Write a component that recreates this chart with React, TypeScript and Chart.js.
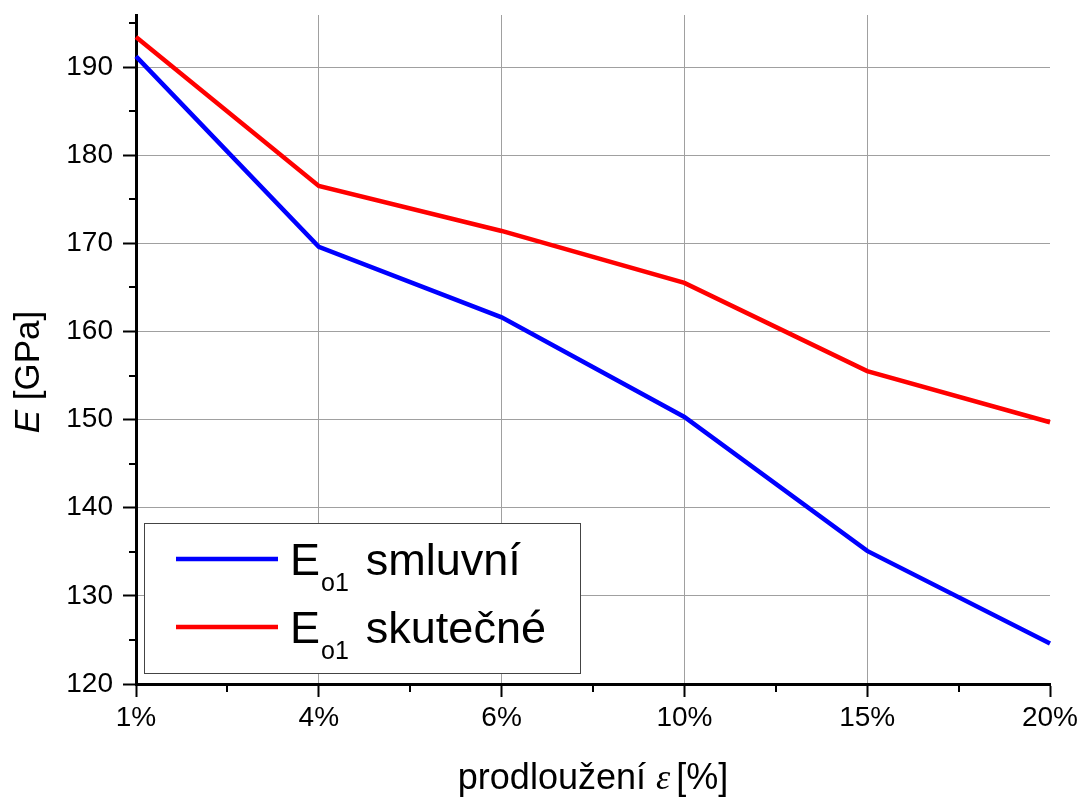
import React, { useEffect, useRef } from 'react';
import { Chart, registerables } from 'chart.js';

Chart.register(...registerables);

const categories = ['1%', '4%', '6%', '10%', '15%', '20%'];
const smluvniValues = [191.2, 169.6, 161.6, 150.3, 135.1, 124.6];
const skutecneValues = [193.4, 176.5, 171.4, 165.5, 155.5, 149.7];
const yMinorTicks = [125, 135, 145, 155, 165, 175, 185, 195];
const xMinorTicks = [0.5, 1.5, 2.5, 3.5, 4.5];
const legendMain = ['E', 'E'];
const legendSub = ['o1', 'o1'];
const legendRest = ['smluvní', 'skutečné'];
const seriesColors = ['#0000ff', '#ff0000'];
const yTitleItalic = 'E';
const yTitleRest = ' [GPa]';
const xTitleStart = 'prodloužení ';
const xTitleSymbol = 'ε';
const xTitleEnd = '[%]';

const SANS = "'Liberation Sans', Arial, sans-serif";
const SERIF = "'Liberation Serif', 'Times New Roman', serif";

const decorPlugin = {
  id: 'decor',
  afterDraw(chart: any) {
    const ctx: CanvasRenderingContext2D = chart.ctx;
    const xs = chart.scales.x;
    const ys = chart.scales.y;
    const area = chart.chartArea;
    ctx.save();

    // minor ticks
    ctx.strokeStyle = '#000';
    ctx.lineWidth = 2;
    yMinorTicks.forEach((v) => {
      const py = Math.round(ys.getPixelForValue(v));
      ctx.beginPath();
      ctx.moveTo(area.left - 7, py);
      ctx.lineTo(area.left, py);
      ctx.stroke();
    });
    xMinorTicks.forEach((v) => {
      const px = Math.round(xs.getPixelForValue(v));
      ctx.beginPath();
      ctx.moveTo(px, area.bottom);
      ctx.lineTo(px, area.bottom + 8);
      ctx.stroke();
    });

    ctx.fillStyle = '#000';
    ctx.textBaseline = 'alphabetic';
    ctx.textAlign = 'left';

    // y title
    ctx.save();
    ctx.translate(39, 372);
    ctx.rotate(-Math.PI / 2);
    ctx.font = `italic 35px ${SANS}`;
    const wE = ctx.measureText(yTitleItalic).width;
    ctx.font = `35px ${SANS}`;
    const wR = ctx.measureText(yTitleRest).width;
    const sx = -(wE + wR) / 2;
    ctx.font = `italic 35px ${SANS}`;
    ctx.fillText(yTitleItalic, sx, 0);
    ctx.font = `35px ${SANS}`;
    ctx.fillText(yTitleRest, sx + wE, 0);
    ctx.restore();

    // x title
    ctx.font = `36px ${SANS}`;
    const w1 = ctx.measureText(xTitleStart).width;
    const w3 = ctx.measureText(xTitleEnd).width;
    ctx.font = `italic 36px ${SERIF}`;
    const w2 = ctx.measureText(xTitleSymbol).width;
    const gap = 6;
    const total = w1 + w2 + gap + w3;
    let tx = (area.left + area.right) / 2 - total / 2;
    const by = 789;
    ctx.font = `36px ${SANS}`;
    ctx.fillText(xTitleStart, tx, by);
    tx += w1;
    ctx.font = `italic 36px ${SERIF}`;
    ctx.fillText(xTitleSymbol, tx, by);
    tx += w2 + gap;
    ctx.font = `36px ${SANS}`;
    ctx.fillText(xTitleEnd, tx, by);

    // legend
    const bx = area.left + 8;
    const bTop = 523;
    const bw = 436;
    const bh = 150;
    ctx.fillStyle = '#ffffff';
    ctx.fillRect(bx, bTop, bw, bh);
    ctx.strokeStyle = '#444';
    ctx.lineWidth = 1;
    ctx.strokeRect(bx + 0.5, bTop + 0.5, bw, bh);
    const rowY = [559, 627];
    for (let i = 0; i < 2; i++) {
      const ly = rowY[i];
      ctx.strokeStyle = seriesColors[i];
      ctx.lineWidth = 4.5;
      ctx.beginPath();
      ctx.moveTo(bx + 32, ly);
      ctx.lineTo(bx + 134, ly);
      ctx.stroke();
      ctx.fillStyle = '#000';
      const base = ly + 16;
      let lx = bx + 146;
      ctx.font = `45px ${SANS}`;
      ctx.fillText(legendMain[i], lx, base);
      lx += ctx.measureText(legendMain[i]).width;
      ctx.font = `25px ${SANS}`;
      ctx.fillText(legendSub[i], lx + 1, base + 16);
      lx += ctx.measureText(legendSub[i]).width + 1;
      ctx.font = `45px ${SANS}`;
      ctx.fillText(legendRest[i], lx + 17, base);
    }
    ctx.restore();
  },
};

export default function App() {
  const canvasRef = useRef<HTMLCanvasElement | null>(null);

  useEffect(() => {
    if (!canvasRef.current) return;
    const chart = new Chart(canvasRef.current, {
      type: 'line',
      data: {
        labels: categories,
        datasets: [
          {
            label: 'Eo1 smluvní',
            data: smluvniValues,
            borderColor: seriesColors[0],
            backgroundColor: seriesColors[0],
            borderWidth: 4.5,
            pointRadius: 0,
            tension: 0,
            fill: false,
          },
          {
            label: 'Eo1 skutečné',
            data: skutecneValues,
            borderColor: seriesColors[1],
            backgroundColor: seriesColors[1],
            borderWidth: 4.5,
            pointRadius: 0,
            tension: 0,
            fill: false,
          },
        ],
      },
      options: {
        responsive: false,
        animation: false,
        layout: { padding: { top: 15, right: 32, left: 0, bottom: 0 } },
        plugins: {
          legend: { display: false },
          tooltip: { enabled: false },
          title: { display: false },
        },
        scales: {
          x: {
            type: 'category',
            offset: false,
            afterFit: (scale: any) => {
              scale.height = 115;
              scale.paddingLeft = 0;
              scale.paddingRight = 0;
            },
            grid: {
              color: (c: any) => (c.index === categories.length - 1 ? 'rgba(0,0,0,0)' : '#a0a0a0'),
              lineWidth: 1,
              drawTicks: true,
              tickLength: 13,
              tickColor: '#000',
              tickWidth: 2,
            },
            border: { display: true, color: '#000', width: 3 },
            ticks: {
              color: '#000',
              font: { family: SANS, size: 28 },
              padding: 4,
              maxRotation: 0,
              autoSkip: false,
            },
          },
          y: {
            type: 'linear',
            min: 120,
            max: 195.9,
            afterFit: (scale: any) => {
              scale.width = 136;
              scale.paddingTop = 0;
              scale.paddingBottom = 0;
            },
            grid: {
              color: '#a0a0a0',
              lineWidth: 1,
              drawTicks: true,
              tickLength: 13,
              tickColor: '#000',
              tickWidth: 2,
            },
            border: { display: true, color: '#000', width: 3 },
            ticks: {
              stepSize: 10,
              includeBounds: false,
              color: '#000',
              font: { family: SANS, size: 28 },
              padding: 10,
            },
          },
        },
      },
      plugins: [decorPlugin],
    } as any);
    return () => chart.destroy();
  }, []);

  return (
    <div style={{ position: 'fixed', left: 0, top: 0, width: 1082, height: 799, background: '#fff' }}>
      <canvas ref={canvasRef} width={1082} height={799} style={{ display: 'block' }} />
    </div>
  );
}
